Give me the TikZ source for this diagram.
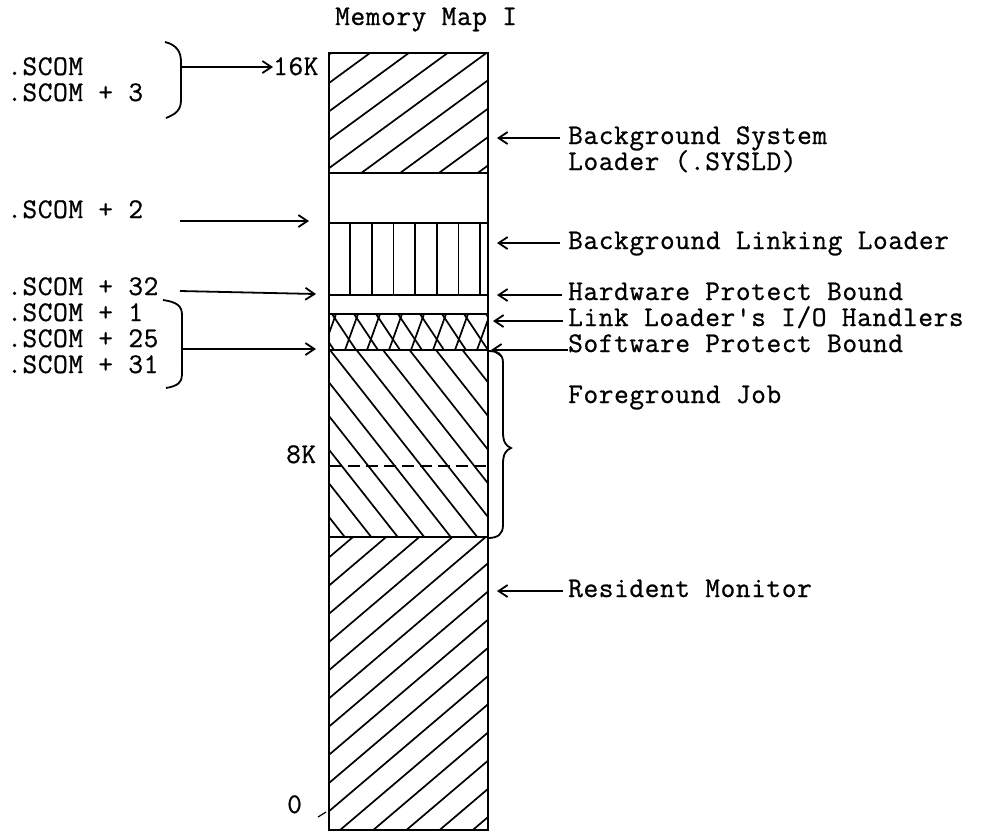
\documentclass[tikz,border=0pt]{standalone}
\usepackage{fontspec}
\newfontfamily\mono[LetterSpace=2.2,FakeBold=0.8]{Latin Modern Mono}
\usetikzlibrary{arrows.meta}
\begin{document}
\begin{tikzpicture}[x=1pt,y=-1pt,
  lbl/.style={font=\mono\fontsize{28.5}{30}\selectfont, inner sep=0pt, anchor=base west,
    text height=17pt, text depth=4pt},
  frame/.style={line width=2.4pt},
  hatch/.style={line width=1.7pt},
  arr/.style={line width=1.8pt, -{Straight Barb[length=9pt,width=12pt,line width=1.8pt]}},
  brace/.style={line width=1.8pt}]
\useasboundingbox (0,0) rectangle (984,831);

% ---- hatching ----
\begin{scope}
  \clip (329,53) rectangle (488,173);
  \foreach \k in {-1,...,8} \draw[hatch] (329,83+28.4*\k) -- ++(220,-161);
\end{scope}
\begin{scope}
  \foreach \k in {0,...,6} \draw[hatch] (350+21.7*\k,223) -- (350+21.7*\k,295);
\end{scope}
\begin{scope}
  \clip (329,314) rectangle (488,350);
  \foreach \k in {-2,...,7} \draw[hatch] (332+22*\k,314) -- ++(24,36);
  \foreach \k in {-1,...,7} \draw[hatch] (345+22*\k,350) -- ++(13,-36);
\end{scope}
\begin{scope}
  \clip (329,350) rectangle (488,537);
  \foreach \k in {-7,...,6} \draw[hatch] (330+26.5*\k,350) -- ++(200,254);
\end{scope}
\begin{scope}
  \clip (329,537) rectangle (488,830);
  \foreach \k in {-4,...,12} \draw[hatch] (329,642+28.2*\k) -- ++(220,-187);
\end{scope}

% ---- column ----
\draw[frame] (329,53) rectangle (488,830);
\foreach \yy in {173,223,295,314,350,537} \draw[frame] (329,\yy) -- (488,\yy);
\draw[line width=1.6pt, dash pattern=on 12pt off 6pt] (330,466) -- (486,466);

% ---- title ----
\node[lbl] (title) at (335,25) {Memory Map I};

% ---- left labels ----
\node[lbl] (scomA) at (7,75) {.SCOM};
\node[lbl] (scomB) at (7,101) {.SCOM + 3};
\node[lbl] (scomC) at (7,218) {.SCOM + 2};
\node[lbl] (scomD) at (7,295) {.SCOM + 32};
\node[lbl] (scomE) at (7,321) {.SCOM + 1};
\node[lbl] (scomF) at (7,347) {.SCOM + 25};
\node[lbl] (scomG) at (7,373) {.SCOM + 31};
\node[lbl] (k16) at (273,75) {16K};
\node[lbl] (k8) at (286,463) {8K};
\node[lbl] (zero) at (287,813) {0};

% brackets
\draw[brace] (165,42) .. controls (177,45) and (181,52) .. (181,62) -- (181,100)
  .. controls (181,110) and (176,114) .. (166,118);
\coordinate (bA) at (181,67);
\draw[arr] (bA) -- (k16.west |- bA);

\draw[brace] (163,300) .. controls (177,302) and (182,306) .. (182,315) -- (182,375)
  .. controls (182,382) and (178,386) .. (166,388);
\coordinate (bB) at (182,349);
\coordinate (bBe) at (316,349);
\draw[arr] (bB) -- (bBe);

\coordinate (aCs) at (180,221);
\coordinate (aCe) at (309,221);
\draw[arr] (aCs) -- (aCe);
\coordinate (aDs) at (180,291);
\coordinate (aDe) at (316,294);
\draw[arr] (aDs) -- (aDe);

\draw[line width=1.2pt] (318,817) -- (326,812);

% ---- right labels ----
\node[lbl] (bgA) at (568,144) {Background System};
\node[lbl] (bgB) at (568,170) {Loader (.SYSLD)};
\node[lbl] (bgll) at (568,249) {Background Linking Loader};
\node[lbl] (hpb) at (568,300) {Hardware Protect Bound};
\node[lbl] (lio) at (568,326) {Link Loader's I/O Handlers};
\node[lbl] (spb) at (568,352) {Software Protect Bound};
\node[lbl] (fg) at (568,403) {Foreground Job};
\node[lbl] (rm) at (568,597) {Resident Monitor};

\coordinate (tA) at (497,138);
\coordinate (tB) at (497,243);
\coordinate (tC) at (497,295);
\coordinate (tD) at (493,321);
\coordinate (tE) at (491,350);
\coordinate (tF) at (497,591);
\draw[arr] ([shift={(-8,-6)}]bgA.base west) -- (tA);
\draw[arr] ([shift={(-8,-6)}]bgll.base west) -- (tB);
\draw[arr] ([shift={(-6,-5)}]hpb.base west) -- (tC);
\draw[arr] ([shift={(-5,-5)}]lio.base west) -- (tD);
\draw[arr] ([shift={(0,-2)}]spb.base west) -- (tE);
\draw[arr] ([shift={(-5,-6)}]rm.base west) -- (tF);

% foreground brace
\draw[brace] (488,351) .. controls (498,351) and (503,354) .. (503,363) -- (503,432)
  .. controls (503,442) and (506,446) .. (511,448)
  .. controls (506,450) and (503,454) .. (503,464) -- (503,525)
  .. controls (503,534) and (498,538) .. (488,538);
\end{tikzpicture}
\end{document}
